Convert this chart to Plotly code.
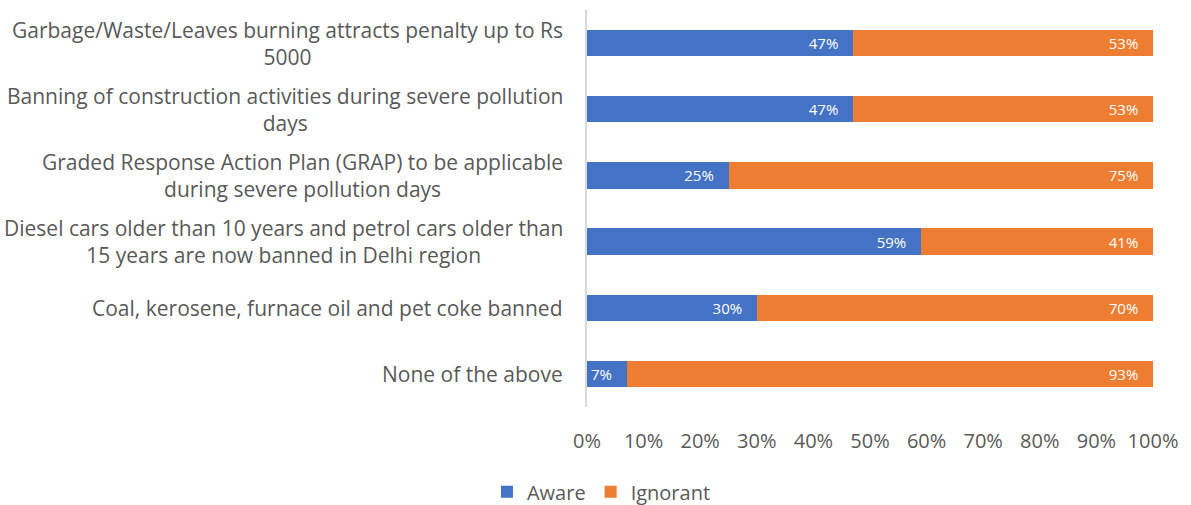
import plotly.graph_objects as go

categories = [
    "Garbage/Waste/Leaves burning attracts penalty up to Rs<br>5000",
    "Banning of construction activities during severe pollution<br>days",
    "Graded Response Action Plan (GRAP) to be applicable<br>during severe pollution days",
    "Diesel cars older than 10 years and petrol cars older than<br>15 years are now banned in Delhi region",
    "Coal, kerosene, furnace oil and pet coke banned",
    "None of the above",
]
aware = [47, 47, 25, 59, 30, 7]
ignorant = [53, 53, 75, 41, 70, 93]
x_ticks = [0, 10, 20, 30, 40, 50, 60, 70, 80, 90, 100]

FONT = "Open Sans"
GRAY = "#595959"
PAD = "\u00a0" * 3  # keeps value labels clear of the segment end

fig = go.Figure()
for name, vals, color in [("Aware", aware, "#4472C4"), ("Ignorant", ignorant, "#ED7D31")]:
    fig.add_trace(go.Bar(
        y=categories, x=vals, name=name, orientation="h",
        marker=dict(color=color, line=dict(width=0)),
        text=[f"{v}%{PAD}" for v in vals], textposition="inside",
        insidetextanchor="end",
        textfont=dict(color="white", size=15, family=FONT),
        cliponaxis=False,
    ))

# category labels: centred multi-line blocks right-aligned against the axis
for c in categories:
    fig.add_annotation(
        x=0, xref="paper", y=c, yref="y", text=c, showarrow=False,
        xanchor="right", yanchor="middle", align="center", xshift=-22,
        font=dict(family=FONT, size=21, color=GRAY),
    )

fig.update_layout(
    barmode="stack", bargap=0.6,
    width=1191, height=505,
    margin=dict(l=587, r=38, t=10, b=98),
    paper_bgcolor="white", plot_bgcolor="white",
    font=dict(family=FONT, size=20, color=GRAY),
    legend=dict(orientation="h", xref="container", x=0.505, xanchor="center",
                yref="container", y=0.026, yanchor="middle",
                font=dict(size=20, color=GRAY, family=FONT), traceorder="normal"),
    xaxis=dict(range=[0, 100], tickvals=x_ticks, ticktext=[f"{t}%" for t in x_ticks],
               showgrid=False, zeroline=False, showline=False, ticks="",
               tickfont=dict(size=20, color=GRAY, family=FONT), ticklabelstandoff=20),
    yaxis=dict(autorange="reversed", showticklabels=False, showgrid=False,
               zeroline=False, showline=True, linecolor="#D9D9D9", linewidth=2,
               ticks=""),
)

fig.write_html("out.html")
